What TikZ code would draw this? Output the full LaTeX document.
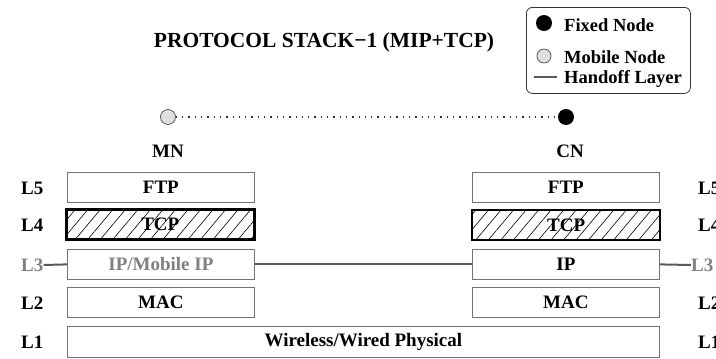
\documentclass[tikz,border=0pt]{standalone}
\usepackage{fontspec}
\setmainfont{Liberation Serif}
\usetikzlibrary{patterns.meta}
\begin{document}
\begin{tikzpicture}[x=1pt,y=-1pt,
  every node/.style={font=\bfseries\fontsize{19}{21}\selectfont, inner sep=0pt},
  legtext/.style={anchor=west, font=\bfseries\fontsize{18.5}{20}\selectfont},
  layerbox/.style={draw=black!55, line width=0.8pt, minimum height=30pt, anchor=north west},
  hatchbox/.style={draw=black, line width=2.4pt, minimum height=30pt, anchor=north west,
     pattern={Lines[angle=50,distance=9.6pt,line width=0.6pt]}},
  lab/.style={anchor=west},
  gray lab/.style={anchor=west, text=black!50},
  handoff/.style={draw=black!65, line width=2pt},
  mobile/.style={circle, draw=black!70, fill=black!12, line width=0.7pt, minimum size=15pt},
  fixed/.style={circle, fill=black, minimum size=16pt},
]
\useasboundingbox (0,0) rectangle (716,359);

% title
\node[font=\bfseries\fontsize{21.5}{23}\selectfont] (title) at (324,42) {PROTOCOL STACK−1 (MIP+TCP)};

% legend
\node[draw=black!80, line width=0.8pt, rounded corners=6pt, minimum width=164pt, minimum height=86pt, anchor=north west] (legend) at (526,7) {};
\node[fixed] (lfixed) at (544,23) {};
\node[mobile, minimum size=14pt] (lmobile) at (544,56) {};
\coordinate (lh1) at (534,77);
\coordinate (lh2) at (557,77);
\draw[handoff] (lh1) -- (lh2);
\node[legtext] (tfixed) at (564,25) {Fixed Node};
\node[legtext] (tmobile) at (564,57) {Mobile Node};
\node[legtext] (thand) at (564,79) {Handoff Layer};

% end nodes
\node[mobile] (mn) at (168,117) {};
\node[fixed] (cn) at (566,117) {};
\draw[line width=1.3pt, black!80, dash pattern=on 1.3pt off 5pt] (mn) -- (cn);
\node (mnl) at (168,151) {MN};
\node (cnl) at (570,151) {CN};

% left stack
\node[layerbox, minimum width=187pt] (ftpL) at (67,172) {};
\node (ftpLt) at (ftpL.center) {FTP};
\node[hatchbox, minimum width=188pt] (tcpL) at (66,209) {};
\node (tcpLt) at (tcpL.center) {TCP};
\node[layerbox, minimum width=187pt] (ipL) at (67,249) {};
\node[text=black!50] (ipLt) at (ipL.center) {IP/Mobile IP};
\node[layerbox, minimum width=187pt] (macL) at (67,287) {};
\node (macLt) at (macL.center) {MAC};

% right stack
\node[layerbox, minimum width=187pt] (ftpR) at (472,172) {};
\node (ftpRt) at (ftpR.center) {FTP};
\node[hatchbox, minimum width=188pt] (tcpR) at (471,209) {};
\node (tcpRt) at (tcpR.center) {TCP};
\node[layerbox, minimum width=187pt] (ipR) at (472,249) {};
\node (ipRt) at (ipR.center) {IP};
\node[layerbox, minimum width=187pt] (macR) at (472,287) {};
\node (macRt) at (macR.center) {MAC};

% physical
\node[layerbox, minimum width=592pt, minimum height=31pt] (phy) at (67,326) {};
\node (phyt) at (phy.center) {Wireless/Wired Physical};

% layer labels left
\node[lab] (l5L) at (21,188) {L5};
\node[lab] (l4L) at (21,225) {L4};
\node[gray lab] (l3L) at (21,265) {L3};
\node[lab] (l2L) at (21,303) {L2};
\node[lab] (l1L) at (21,342) {L1};

% layer labels right
\node[lab] (l5R) at (698,188) {L5};
\node[lab] (l4R) at (698,225) {L4};
\node[gray lab] (l3R) at (691,265) {L3};
\node[lab] (l2R) at (698,303) {L2};
\node[lab] (l1R) at (698,342) {L1};

% handoff lines
\draw[handoff] (l3L.east) -- (ipL.west);
\draw[handoff] (ipL.east) -- (ipR.west);
\draw[handoff] (ipR.east) -- (l3R.west);
\end{tikzpicture}
\end{document}
